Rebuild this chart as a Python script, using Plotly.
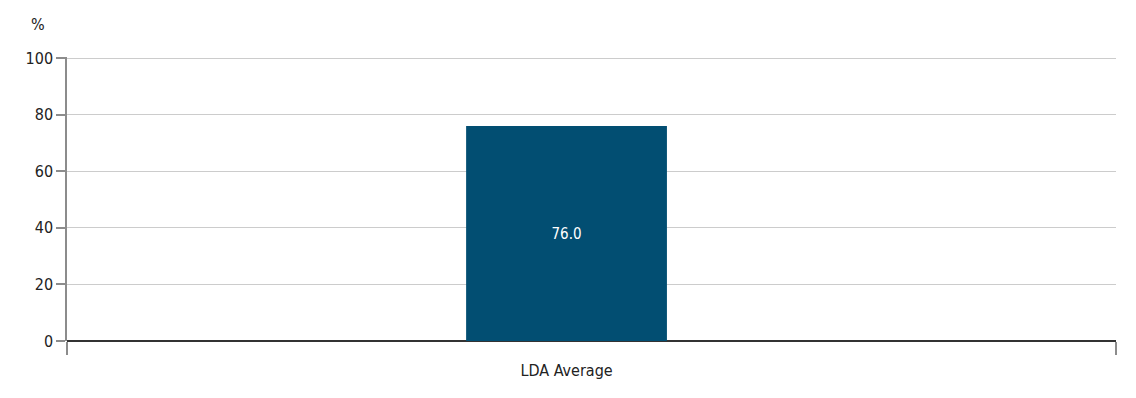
import plotly.graph_objects as go

categories = ["LDA Average"]
values = [76.0]
y_ticks = [0, 20, 40, 60, 80, 100]

FONT = "DejaVu Sans Condensed, Liberation Sans Narrow, Liberation Sans, sans-serif"

fig = go.Figure()
fig.add_trace(go.Bar(
    x=[0], y=values, width=0.201,
    marker=dict(color="#024e72", line=dict(width=0)),
    text=[f"{v:.1f}" for v in values], textposition="inside",
    insidetextanchor="middle",
    textfont=dict(color="white", size=15, family=FONT),
    showlegend=False, hoverinfo="skip",
))
# invisible trace to anchor the boundary-tick axis
fig.add_trace(go.Scatter(x=[-0.5, 0.55], y=[0, 0], xaxis="x2", mode="lines",
                         line=dict(width=0), showlegend=False, hoverinfo="skip"))

fig.update_layout(
    width=1136, height=398,
    margin=dict(l=59, r=28, t=49, b=65),
    plot_bgcolor="white", paper_bgcolor="white",
    font=dict(family=FONT, size=16, color="#222222"),
    xaxis=dict(
        range=[-0.5, 0.55], tickvals=[0], ticktext=categories,
        ticks="", showgrid=False, zeroline=False, showline=False,
        ticklabelstandoff=18,
        tickfont=dict(size=16, color="#222222"),
    ),
    xaxis2=dict(
        range=[-0.5, 0.55], overlaying="x", side="bottom", anchor="y",
        tickvals=[-0.5, 0.55], ticks="outside", ticklen=13, tickwidth=2,
        tickcolor="#8c8c8c", showticklabels=False, showgrid=False,
        zeroline=False, showline=False,
    ),
    yaxis=dict(
        range=[0, 100.4], tickvals=y_ticks, ticks="outside", ticklen=9,
        tickcolor="#8c8c8c", tickwidth=1.5, showline=True, linecolor="#8c8c8c",
        linewidth=1.5, gridcolor="#cccccc", gridwidth=1,
        zeroline=True, zerolinecolor="#333333", zerolinewidth=1.5,
        tickfont=dict(size=16, color="#222222"),
    ),
    annotations=[dict(text="%", xref="paper", yref="paper", x=-0.0276, y=1.116,
                      xanchor="center", yanchor="middle", showarrow=False,
                      font=dict(size=16, color="#222222", family=FONT))],
)

fig.write_html("out.html")
